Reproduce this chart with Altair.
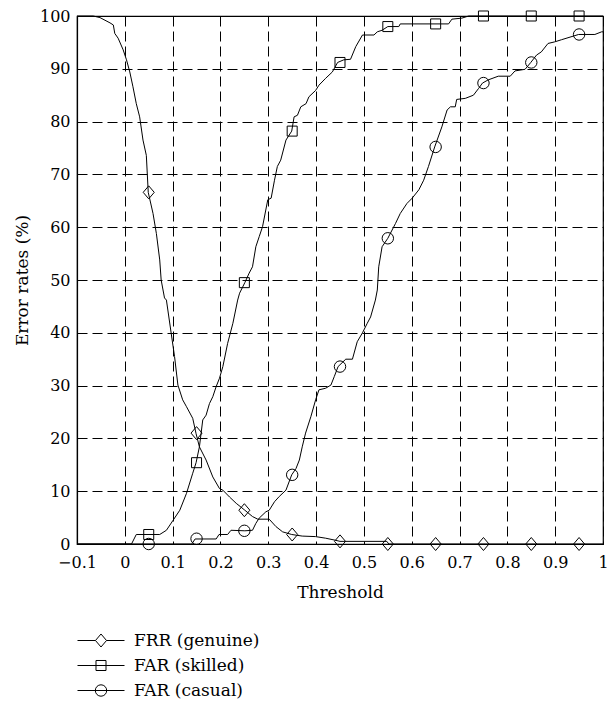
import altair as alt
import pandas as pd

# ---- curve data (threshold, error rate %) ----
frr_x = [-0.1, -0.066, -0.052, -0.031, -0.024, -0.021, -0.014, -0.0035, 0.0035, 0.0104,
         0.017, 0.024, 0.031, 0.038, 0.045, 0.049, 0.059, 0.066, 0.073, 0.076, 0.083,
         0.087, 0.097, 0.104, 0.111, 0.121, 0.129, 0.142, 0.149, 0.156, 0.170, 0.184,
         0.198, 0.205, 0.219, 0.233, 0.251, 0.267, 0.278, 0.302, 0.316, 0.33, 0.349,
         0.371, 0.399, 0.42, 0.441, 0.45, 0.548, 0.552, 1.0]
frr_y = [100, 100, 99.7, 98.7, 98.3, 96.7, 95.8, 93.6, 91.7, 89.4,
         86.6, 83.4, 80.9, 76.5, 73.6, 66.6, 62.6, 58.8, 53.8, 50.0, 46.6,
         46.2, 39.9, 35.5, 30.1, 27.3, 26.0, 23.8, 20.9, 18.4, 15.9, 12.7,
         10.5, 10.2, 8.9, 7.7, 6.4, 5.2, 4.7, 4.7, 3.3, 2.3, 1.8,
         1.5, 1.4, 1.1, 0.7, 0.5, 0.5, 0.0, 0.0]

skilled_x = [-0.1, 0.014, 0.024, 0.073, 0.087, 0.101, 0.115, 0.129, 0.142, 0.149, 0.156,
             0.163, 0.170, 0.177, 0.184, 0.191, 0.198, 0.205, 0.215, 0.226, 0.236,
             0.240, 0.251, 0.260, 0.267, 0.274, 0.281, 0.288, 0.299, 0.306, 0.313,
             0.319, 0.326, 0.337, 0.349, 0.354, 0.361, 0.368, 0.379, 0.385, 0.399,
             0.406, 0.420, 0.434, 0.445, 0.458, 0.472, 0.483, 0.497, 0.521, 0.528,
             0.538, 0.55, 0.573, 0.576, 0.677, 0.684, 0.705, 0.719, 1.0]
skilled_y = [0, 0, 1.8, 1.8, 2.6, 4.5, 6.4, 9.6, 13.4, 15.4, 18.4,
             23.5, 24.4, 26.6, 27.9, 29.8, 31.4, 33.6, 38.0, 41.8, 46.2,
             47.5, 49.5, 51.3, 52.5, 56.3, 58.2, 60.1, 65.2, 65.5, 68.9,
             71.5, 72.7, 76.5, 78.2, 80.9, 81.2, 82.8, 83.4, 84.7, 85.9,
             86.9, 88.2, 89.4, 91.2, 91.7, 91.8, 94.2, 96.4, 96.4, 97.0,
             97.3, 98.0, 98.0, 98.5, 98.5, 99.4, 99.6, 100, 100]

casual_x = [-0.1, 0.14, 0.147, 0.191, 0.197, 0.215, 0.222, 0.251, 0.267, 0.274, 0.281,
            0.295, 0.302, 0.313, 0.323, 0.337, 0.349, 0.358, 0.365, 0.371, 0.378,
            0.389, 0.399, 0.406, 0.420, 0.431, 0.438, 0.446, 0.462, 0.476, 0.486,
            0.497, 0.507, 0.514, 0.524, 0.528, 0.531, 0.538, 0.55, 0.566, 0.576,
            0.590, 0.601, 0.615, 0.625, 0.635, 0.648, 0.663, 0.674, 0.681, 0.691,
            0.694, 0.712, 0.729, 0.74, 0.748, 0.76, 0.781, 0.806, 0.816, 0.837,
            0.849, 0.861, 0.871, 0.885, 0.899, 0.913, 0.949, 0.983, 0.997, 1.0]
casual_y = [0, 0, 0.95, 0.95, 1.8, 1.8, 2.6, 2.5, 2.6, 3.9, 4.9,
            6.1, 6.4, 8.0, 9.0, 10.2, 13.1, 14.3, 15.9, 18.4, 21.0,
            24.1, 27.3, 29.2, 29.5, 30.1, 31.7, 33.6, 35.0, 35.0, 38.3,
            40.0, 41.8, 43.0, 46.2, 48.1, 52.5, 56.3, 57.9, 60.7, 62.6,
            64.5, 65.5, 67.1, 68.9, 71.5, 75.2, 79.0, 82.2, 82.8, 82.8,
            84.2, 84.4, 85.0, 86.3, 87.3, 87.9, 88.6, 88.6, 89.6, 89.9,
            91.2, 92.6, 93.2, 94.8, 95.1, 95.5, 96.5, 96.5, 97.0, 97.0]

# ---- marker positions ----
marker_x = [0.05, 0.15, 0.25, 0.35, 0.45, 0.55, 0.65, 0.75, 0.85, 0.95]
frr_m = [66.6, 21.0, 6.4, 1.8, 0.5, 0, 0, 0, 0, 0]
skilled_m = [1.8, 15.4, 49.5, 78.2, 91.2, 98.0, 98.5, 100, 100, 100]
casual_m = [0, 1.0, 2.5, 13.1, 33.6, 57.9, 75.2, 87.3, 91.2, 96.5]

series_names = ["FRR (genuine)", "FAR (skilled)", "FAR (casual)"]
x_ticks = [-0.1, 0, 0.1, 0.2, 0.3, 0.4, 0.5, 0.6, 0.7, 0.8, 0.9, 1.0]
y_ticks = [0, 10, 20, 30, 40, 50, 60, 70, 80, 90, 100]

FONT = "DejaVu Serif"

rows = []
for name, xs, ys in zip(series_names, [frr_x, skilled_x, casual_x], [frr_y, skilled_y, casual_y]):
    for i, (a, b) in enumerate(zip(xs, ys)):
        rows.append({"series": name, "x": a, "y": b, "i": i})
curves = pd.DataFrame(rows)

mrows = []
for name, ys in zip(series_names, [frr_m, skilled_m, casual_m]):
    for a, b in zip(marker_x, ys):
        mrows.append({"series": name, "x": a, "y": b})
markers = pd.DataFrame(mrows)

diamond = "M-0.85,0L0,-1L0.85,0L0,1Z"
square = "M-0.77,-0.77H0.77V0.77H-0.77Z"
circle = "M-0.88,0A0.88,0.88 0 1,0 0.88,0A0.88,0.88 0 1,0 -0.88,0Z"

# legend glyphs: line through marker (unit coords scaled to +/-23.5 px)
s = 6.5 / 23.5
leg_diamond = (f"M-1,0H{-0.85*s:.3f}M{0.85*s:.3f},0H1"
               f"M{-0.85*s:.3f},0L0,{-s:.3f}L{0.85*s:.3f},0L0,{s:.3f}Z")
leg_square = (f"M-1,0H1M{-0.77*s:.3f},{-0.77*s:.3f}H{0.77*s:.3f}V{0.77*s:.3f}H{-0.77*s:.3f}Z")
r = 0.88 * s
leg_circle = (f"M-1,0H1M{-r:.3f},0A{r:.3f},{r:.3f} 0 1,0 {r:.3f},0A{r:.3f},{r:.3f} 0 1,0 {-r:.3f},0Z")

xscale = alt.Scale(domain=[-0.1, 1.0], nice=False, zero=False)
yscale = alt.Scale(domain=[0, 100], nice=False)

xaxis = alt.Axis(values=x_ticks, format=".1~f", title="Threshold", grid=True, labelFlush=False,
                 labelPadding=10)
yaxis = alt.Axis(values=y_ticks, format="d", title="Error rates (%)", grid=True, labelFlush=False)

lines = alt.Chart(curves).mark_line(color="black", strokeWidth=1).encode(
    x=alt.X("x:Q", scale=xscale, axis=xaxis),
    y=alt.Y("y:Q", scale=yscale, axis=yaxis),
    detail="series:N",
    order="i:Q",
)

points = alt.Chart(markers).mark_point(filled=False, color="black", strokeWidth=1, size=169, opacity=1).encode(
    x=alt.X("x:Q", scale=xscale),
    y=alt.Y("y:Q", scale=yscale),
    shape=alt.Shape("series:N", scale=alt.Scale(domain=series_names, range=[diamond, square, circle]), legend=None),
)

legend_layer = alt.Chart(markers).transform_filter("datum.x > 5").mark_point(
    filled=False, color="black", strokeWidth=1, opacity=1
).encode(
    x=alt.X("x:Q", scale=xscale),
    y=alt.Y("y:Q", scale=yscale),
    shape=alt.Shape(
        "series:N",
        scale=alt.Scale(domain=series_names, range=[leg_diamond, leg_square, leg_circle]),
        legend=alt.Legend(
            title=None, orient="none", legendX=0, legendY=612, symbolSize=2209,
            clipHeight=25, rowPadding=0, padding=0, labelOffset=9,
            labelFont=FONT, labelFontSize=17, labelColor="black",
            symbolStrokeColor="black", symbolStrokeWidth=1, symbolFillColor="transparent",
            labelLimit=400,
        ),
    ),
)

chart = alt.layer(lines, points, legend_layer).resolve_scale(shape="independent").properties(
    width=526, height=528,
    autosize=alt.AutoSizeParams(type="none"),
    padding={"left": 69, "top": 8, "right": 5, "bottom": 160},
    background="white",
).configure(
    font=FONT
).configure_view(
    stroke="black", strokeWidth=1.2
).configure_axis(
    labelFont=FONT, labelFontSize=16, labelColor="black",
    titleFont=FONT, titleFontSize=17, titleFontWeight="normal", titleColor="black",
    domainColor="black", domainWidth=1.2,
    ticks=False, labelPadding=7,
    gridColor="black", gridWidth=1, gridDash=[10, 5], gridOpacity=1,
).configure_axisX(
    titlePadding=14
).configure_axisY(
    titlePadding=8
)

chart.save("out.html", embed_options={"renderer": "svg", "actions": False})
